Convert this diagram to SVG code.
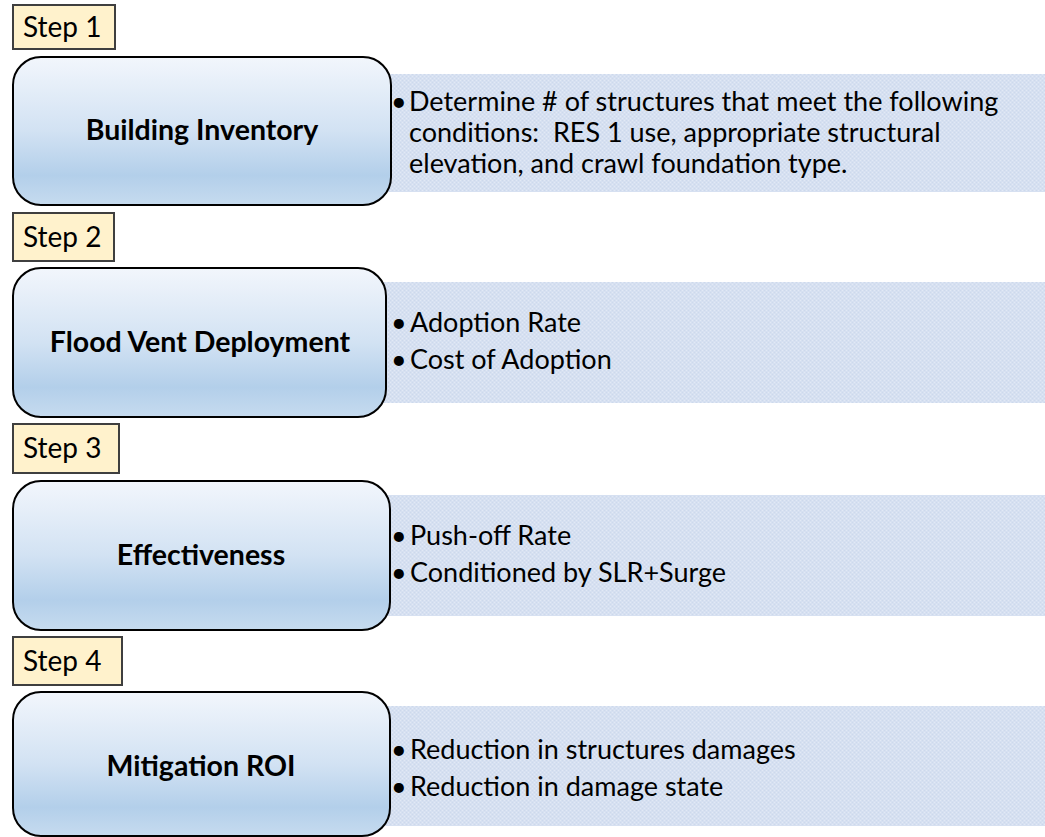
<svg xmlns="http://www.w3.org/2000/svg" width="1045" height="837" viewBox="0 0 1045 837">
<defs>
<linearGradient id="nodeGrad" x1="0" y1="0" x2="0" y2="1">
<stop offset="0" stop-color="#F2F6FC"/>
<stop offset="0.5" stop-color="#D2E2F3"/>
<stop offset="0.8" stop-color="#B3CFEA"/>
<stop offset="1" stop-color="#C6DBEF"/>
</linearGradient>
<pattern id="hatch" width="4" height="4" patternUnits="userSpaceOnUse">
<rect width="4" height="4" fill="#D6E0F1"/>
<rect x="0" y="0" width="1" height="1" fill="#E2E9F5"/>
<rect x="2" y="2" width="1" height="1" fill="#E2E9F5"/>
<rect x="2" y="0" width="1" height="1" fill="#CDD9EC"/>
<rect x="0" y="2" width="1" height="1" fill="#CDD9EC"/>
</pattern>
</defs>
<style>
.step{fill:#FFF2CC;stroke:#3F3F3F;stroke-width:2}
.steptxt{font-family:Lato,"Liberation Sans",sans-serif;font-size:28px;fill:#000}
.node{fill:url(#nodeGrad);stroke:#000;stroke-width:2}
.title{font-family:Lato,"Liberation Sans",sans-serif;font-size:28.5px;font-weight:bold;fill:#000;text-anchor:middle}
.panel{fill:url(#hatch)}
.body{font-family:Lato,"Liberation Sans",sans-serif;font-size:27px;fill:#000}
</style>
<rect width="1045" height="837" fill="#FFFFFF"/>

<g id="panel1">
<rect class="panel" x="380" y="74" width="665" height="118"/>
<text class="body" x="391" y="111">•</text>
<text class="body" x="409" y="111">Determine # of structures that meet the following</text>
<text class="body" x="409" y="142" xml:space="preserve">conditions:  RES 1 use, appropriate structural</text>
<text class="body" x="409" y="173">elevation, and crawl foundation type.</text>
</g>
<g id="panel2">
<rect class="panel" x="380" y="282" width="665" height="121"/>
<text class="body" x="391" y="332">•</text>
<text class="body" x="410" y="332">Adoption Rate</text>
<text class="body" x="391" y="369">•</text>
<text class="body" x="410" y="369">Cost of Adoption</text>
</g>
<g id="panel3">
<rect class="panel" x="380" y="495" width="665" height="121"/>
<text class="body" x="391" y="545">•</text>
<text class="body" x="410" y="545">Push-off Rate</text>
<text class="body" x="391" y="582">•</text>
<text class="body" x="410" y="582">Conditioned by SLR+Surge</text>
</g>
<g id="panel4">
<rect class="panel" x="380" y="706" width="665" height="120"/>
<text class="body" x="391" y="759">•</text>
<text class="body" x="410" y="759">Reduction in structures damages</text>
<text class="body" x="391" y="796">•</text>
<text class="body" x="410" y="796">Reduction in damage state</text>
</g>

<g id="step1">
<rect class="step" x="13" y="5" width="102" height="44"/>
<text class="steptxt" x="23" y="37">Step 1</text>
</g>
<g id="node1">
<rect class="node" x="13" y="57" width="378" height="148" rx="28"/>
<text class="title" x="202" y="140">Building Inventory</text>
</g>

<g id="step2">
<rect class="step" x="13" y="213" width="101" height="48"/>
<text class="steptxt" x="23" y="247">Step 2</text>
</g>
<g id="node2">
<rect class="node" x="13" y="268" width="373" height="149" rx="28"/>
<text class="title" x="200" y="352">Flood Vent Deployment</text>
</g>

<g id="step3">
<rect class="step" x="13" y="424" width="106" height="49"/>
<text class="steptxt" x="23" y="458">Step 3</text>
</g>
<g id="node3">
<rect class="node" x="13" y="481" width="377" height="149" rx="28"/>
<text class="title" x="201" y="565">Effectiveness</text>
</g>

<g id="step4">
<rect class="step" x="13" y="637" width="109" height="48"/>
<text class="steptxt" x="23" y="671">Step 4</text>
</g>
<g id="node4">
<rect class="node" x="13" y="692" width="377" height="144" rx="28"/>
<text class="title" x="201" y="776">Mitigation ROI</text>
</g>

<g id="connectors"></g>
</svg>
